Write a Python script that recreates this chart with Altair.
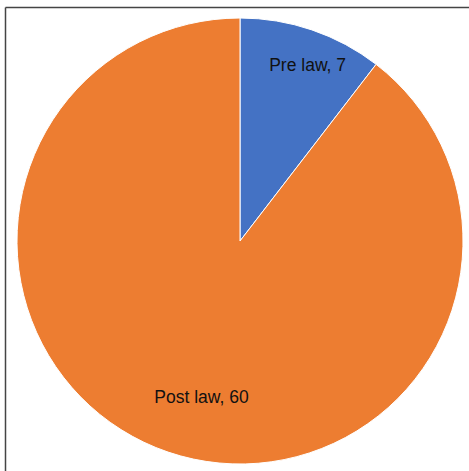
import altair as alt
import pandas as pd

categories = ["Pre law", "Post law"]
values = [7, 60]
colors = ["#4472C4", "#ED7D31"]

df = pd.DataFrame({
    "category": categories,
    "value": values,
    "idx": list(range(len(categories))),
    "label": [f"{c}, {v}" for c, v in zip(categories, values)],
})

cx, cy = 240, 241

base = alt.Chart(df).encode(
    theta=alt.Theta("value:Q", stack=True),
    order=alt.Order("idx:Q"),
    x=alt.value(cx),
    y=alt.value(cy),
)

pie = base.mark_arc(radius=223, stroke="white", strokeWidth=1).encode(
    color=alt.Color("category:N", scale=alt.Scale(domain=categories, range=colors), legend=None),
)

pre_lbl = base.mark_text(radius=188, dx=7, dy=3, font="Liberation Sans", fontSize=17.5, color="#111111").encode(
    text="label:N",
    opacity=alt.condition(alt.datum.idx == 0, alt.value(1), alt.value(0)),
)
post_lbl = base.mark_text(radius=166, dx=15, dy=0, font="Liberation Sans", fontSize=17.5, color="#111111").encode(
    text="label:N",
    opacity=alt.condition(alt.datum.idx == 1, alt.value(1), alt.value(0)),
)

border_top = alt.Chart(df.head(1)).mark_rule(color="#444444", strokeWidth=1.5).encode(
    x=alt.value(5.5), x2=alt.value(469), y=alt.value(7.5)
)
border_left = alt.Chart(df.head(1)).mark_rule(color="#444444", strokeWidth=1.5).encode(
    x=alt.value(5.5), y=alt.value(7.5), y2=alt.value(471)
)

chart = alt.layer(pie, pre_lbl, post_lbl, border_top, border_left).properties(
    width=469, height=471, padding=0, autosize=alt.AutoSizeParams(type="none")
).configure_view(stroke=None)

chart.save("out.html", embed_options={"renderer": "svg", "actions": False})
